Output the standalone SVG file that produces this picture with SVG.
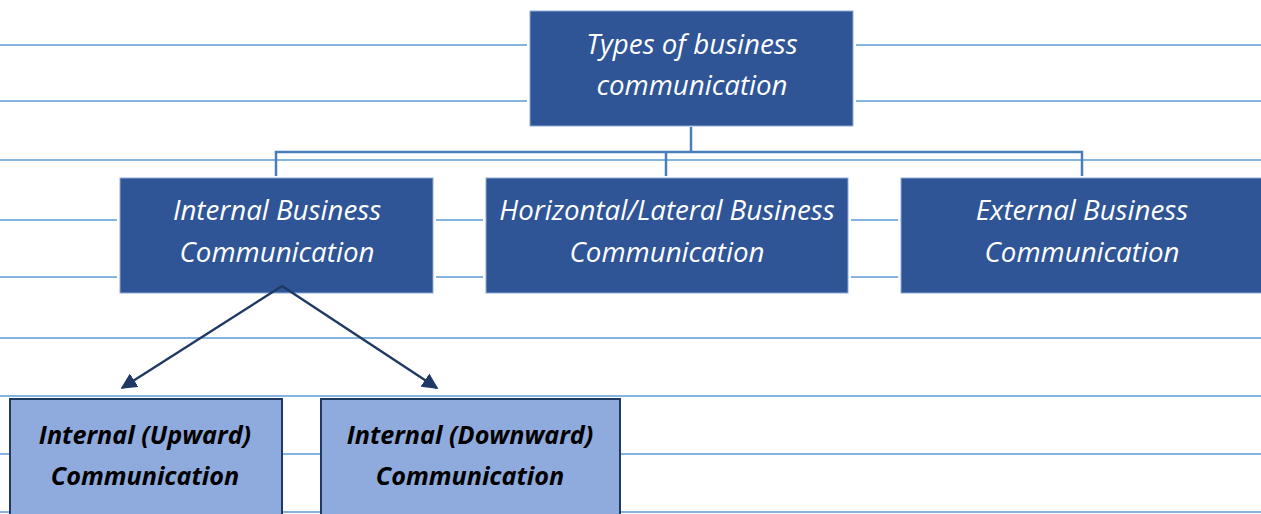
<svg xmlns="http://www.w3.org/2000/svg" width="1261" height="514" viewBox="0 0 1261 514">
<defs>
<style>
.bg{stroke:#5B9BD5;stroke-width:1.5}
.dark{fill:#2F5597;stroke:#8FAADC;stroke-width:1}
.gap{fill:#fff}
.light{fill:#8FAADC;stroke:#1F3864;stroke-width:2}
.tw{font-family:"Open Sans","DejaVu Sans",sans-serif;font-style:italic;font-size:27.7px;fill:#fff;text-anchor:middle}
.tb{font-family:"Open Sans","DejaVu Sans",sans-serif;font-style:italic;font-weight:bold;font-size:25.2px;fill:#000;text-anchor:middle}
.tree{stroke:#4A7EBB;stroke-width:2.5;fill:none}
.arr{stroke:#1F3864;stroke-width:2.4;fill:none}
</style>
<marker id="ah2" viewBox="0 0 10 10" refX="9" refY="5" markerWidth="16" markerHeight="16" markerUnits="userSpaceOnUse" orient="auto"><path d="M0,0L10,5L0,10z" fill="#1F3864"/></marker>
</defs>
<g id="background">
<line class="bg" x1="0" y1="45" x2="1261" y2="45"/>
<line class="bg" x1="0" y1="101" x2="1261" y2="101"/>
<line class="bg" x1="0" y1="160" x2="1261" y2="160"/>
<line class="bg" x1="0" y1="220" x2="1261" y2="220"/>
<line class="bg" x1="0" y1="277" x2="1261" y2="277"/>
<line class="bg" x1="0" y1="338" x2="1261" y2="338"/>
<line class="bg" x1="0" y1="396" x2="1261" y2="396"/>
<line class="bg" x1="0" y1="454" x2="1261" y2="454"/>
<line class="bg" x1="0" y1="512" x2="1261" y2="512"/>
</g>
<g id="top">
<rect class="gap" x="527" y="8" width="329" height="121"/>
<rect class="dark" x="530" y="11" width="323" height="115"/>
<text class="tw" x="692" y="54">Types of business</text>
<text class="tw" x="692" y="95">communication</text>
</g>
<g id="internal">
<rect class="gap" x="117" y="175" width="319" height="121"/>
<rect class="dark" x="120" y="178" width="313" height="115"/>
<text class="tw" x="277" y="220">Internal Business</text>
<text class="tw" x="277" y="262">Communication</text>
</g>
<g id="horizontal">
<rect class="gap" x="483" y="175" width="368" height="121"/>
<rect class="dark" x="486" y="178" width="362" height="115"/>
<text class="tw" x="667" y="220">Horizontal/Lateral Business</text>
<text class="tw" x="667" y="262">Communication</text>
</g>
<g id="external">
<rect class="gap" x="898" y="175" width="366" height="121"/>
<rect class="dark" x="901" y="178" width="362" height="115"/>
<text class="tw" x="1082" y="220">External Business</text>
<text class="tw" x="1082" y="262">Communication</text>
</g>
<g id="upward">
<rect class="light" x="10" y="399" width="272" height="120"/>
<text class="tb" x="145" y="444">Internal (Upward)</text>
<text class="tb" x="145" y="485">Communication</text>
</g>
<g id="downward">
<rect class="light" x="321" y="399" width="299" height="120"/>
<text class="tb" x="470" y="444">Internal (Downward)</text>
<text class="tb" x="470" y="485">Communication</text>
</g>
<g id="connectors">
<polyline class="tree" points="691,127 691,152"/>
<polyline class="tree" points="276,176 276,152 1082,152 1082,176"/>
<line class="tree" x1="666" y1="152" x2="666" y2="176"/>
<line class="arr" x1="282" y1="286" x2="122" y2="388" marker-end="url(#ah2)"/>
<line class="arr" x1="282" y1="286" x2="437" y2="388" marker-end="url(#ah2)"/>
</g>
</svg>
